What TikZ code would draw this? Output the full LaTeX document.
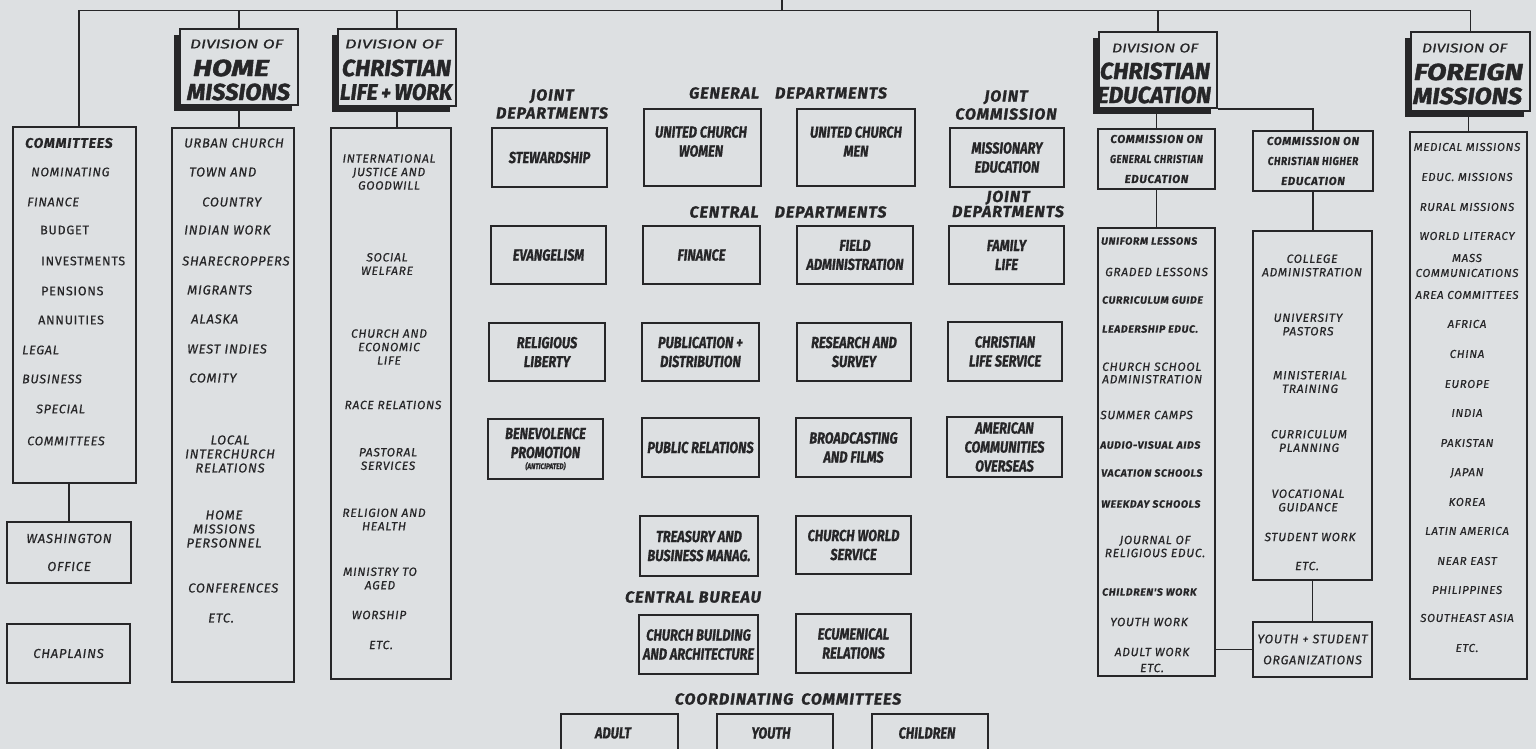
\documentclass[tikz,border=0pt]{standalone}
\usepackage{fontspec}
\usepackage{graphicx}
\setmainfont{Fira Sans}
\newfontfamily\listf{Fira Sans}[LetterSpace=6,FakeBold=0.5]
\newfontfamily\condf{Fira Sans}[FakeStretch=0.8,FakeBold=0.8]
\newfontfamily\heavyf{Fira Sans}[FakeBold=1.6]
\newfontfamily\medf{Fira Sans}[FakeBold=0.8]
\newfontfamily\secf{Fira Sans}[LetterSpace=6,FakeBold=1.0]
\usetikzlibrary{shadows}
\definecolor{bg}{RGB}{221,224,226}
\definecolor{ink}{RGB}{38,38,40}
\newcommand\rs[3]{\resizebox{#1pt}{#2pt}{\heavyf\bfseries\itshape #3}}
\newcommand\rd[3]{\resizebox{#1pt}{#2pt}{\medf\itshape #3}}
\newcommand\sx[2]{\scalebox{#1}[1]{#2}}
\begin{document}
\begin{tikzpicture}[x=1pt,y=-1pt,
 box/.style={draw=ink,line width=1.7pt,fill=bg,inner sep=0pt},
 hbox/.style={draw=ink,line width=2.2pt,fill=bg,inner sep=0pt,drop shadow={shadow xshift=-6pt,shadow yshift=-6pt,fill=ink,opacity=1}},
 tbox/.style={box,line width=2.8pt},
 bt/.style={font=\condf\bfseries\itshape\fontsize{16}{19}\selectfont,align=center,text=ink},
 cmbox/.style={font=\listf\bfseries\itshape\fontsize{11.5}{20}\selectfont,align=center,text=ink},
 lst/.style={inner sep=0pt,text=ink,font=\listf\itshape\fontsize{13}{14}\selectfont},
 lstc/.style={lst,align=center},
 lup/.style={inner sep=0pt,text=ink,font=\listf\fontsize{12.5}{14}\selectfont},
 lsc/.style={inner sep=0pt,text=ink,font=\listf\itshape\fontsize{12}{13.5}\selectfont,align=center},
 gl/.style={inner sep=0pt,text=ink,font=\listf\itshape\fontsize{12}{12.5}\selectfont},
 lsm/.style={inner sep=0pt,text=ink,font=\listf\bfseries\itshape\fontsize{10.5}{12}\selectfont},
 fl/.style={inner sep=0pt,text=ink,font=\listf\itshape\fontsize{11.5}{15}\selectfont,align=center},
 sec/.style={inner sep=0pt,text=ink,font=\secf\bfseries\itshape\fontsize{16}{18}\selectfont,align=center},
 hl/.style={inner sep=0pt,text=ink},
 conn/.style={draw=ink,line width=1.7pt},
]
\useasboundingbox (0,0) rectangle (1536,749);
\clip (0,0) rectangle (1536,749);
\fill[bg] (0,0) rectangle (1536,749);

% ---------- division headings ----------
\node[hbox,minimum width=118pt,minimum height=76pt] (hm) at (239,67) {};
\node[hbox,minimum width=118pt,minimum height=77pt] (clw) at (397,67.5) {};
\node[hbox,minimum width=118pt,minimum height=76pt] (ce) at (1158,70) {};
\node[hbox,minimum width=119pt,minimum height=79pt] (fm) at (1470.5,71.5) {};

\node[hl] (hm1) at (236.5,44) {\rd{93}{9}{DIVISION OF}};
\node[hl] (hm2) at (231,68) {\rs{76}{16.5}{HOME}};
\node[hl] (hm3) at (238.5,92) {\rs{103}{16.5}{MISSIONS}};
\node[hl] (clw1) at (394,44) {\rd{98}{9}{DIVISION OF}};
\node[hl] (clw2) at (396.5,68) {\rs{109}{16.5}{CHRISTIAN}};
\node[hl] (clw3) at (396,92) {\rs{112}{16}{LIFE\,{\small+}\,WORK}};
\node[hl] (ce1) at (1155,48) {\rd{86}{9}{DIVISION OF}};
\node[hl] (ce2) at (1155,71) {\rs{110}{16.5}{CHRISTIAN}};
\node[hl] (ce3) at (1154,95) {\rs{114}{16.5}{EDUCATION}};
\node[hl] (fm1) at (1464.5,48) {\rd{85}{9}{DIVISION OF}};
\node[hl] (fm2) at (1468.5,72) {\rs{109}{16.5}{FOREIGN}};
\node[hl] (fm3) at (1467.5,96) {\rs{109}{16.5}{MISSIONS}};

% ---------- left column ----------
\node[box,minimum width=123pt,minimum height=356pt] (com) at (74.5,305) {};
\node[inner sep=0pt,text=ink,font=\listf\bfseries\itshape\fontsize{14}{14}\selectfont,anchor=west] (comh) at (25,143) {COMMITTEES};
\foreach \t/\x/\y [count=\i] in {NOMINATING/31/172, FINANCE/27/202, LEGAL/22/350, BUSINESS/22/379, SPECIAL/36/409, COMMITTEES/27/441}
  \node[lst,font=\listf\itshape\fontsize{12.5}{14}\selectfont,anchor=west] (ci\i) at (\x,\y) {\t};
\foreach \t/\x/\y [count=\i] in {BUDGET/40/230, INVESTMENTS/41/261, PENSIONS/41/291, ANNUITIES/38/320}
  \node[lup,anchor=west] (cu\i) at (\x,\y) {\t};
\node[box,minimum width=124pt,minimum height=61pt,font=\listf\itshape\fontsize{13}{28}\selectfont,align=center,text=ink] (wash) at (69,552.5) {WASHINGTON\\OFFICE};
\node[box,minimum width=123pt,minimum height=59pt,font=\listf\itshape\fontsize{13}{14}\selectfont,text=ink] (chap) at (68.5,653.5) {CHAPLAINS};

% ---------- home missions list ----------
\node[box,minimum width=122pt,minimum height=554pt] (hml) at (233,405) {};
\foreach \t/\x/\y [count=\i] in {URBAN CHURCH/184/143, TOWN AND/189/172, COUNTRY/202/202, INDIAN WORK/184/230, SHARECROPPERS/182/261, MIGRANTS/187/290, ALASKA/191/319, WEST INDIES/187/349, COMITY/189/378, CONFERENCES/188/588, ETC./208/618}
  \node[lst,anchor=west] (hmi\i) at (\x,\y) {\t};
\node[lstc] (hmlo) at (230,454) {LOCAL\\INTERCHURCH\\RELATIONS};
\node[lstc] (hmpe) at (224,529) {HOME\\MISSIONS\\PERSONNEL};

% ---------- christian life and work list ----------
\node[box,minimum width=120pt,minimum height=551pt] (clwl) at (391,403.5) {};
\foreach \t/\x/\y [count=\i] in {{INTERNATIONAL\\JUSTICE AND\\GOODWILL}/389/172, {SOCIAL\\WELFARE}/387/264, {CHURCH AND\\ECONOMIC\\LIFE}/389/347, {RACE RELATIONS}/393/405, {PASTORAL\\SERVICES}/388/459, {RELIGION AND\\HEALTH}/384/519.5, {MINISTRY TO\\AGED}/380/578.5, {WORSHIP}/379/615, {ETC.}/381/645}
  \node[lsc] (cli\i) at (\x,\y) {\t};

% ---------- centre ----------
\node[sec] (jd1) at (552,104) {JOINT\\DEPARTMENTS};
\node[sec] (gd) at (788,93) {GENERAL\quad DEPARTMENTS};
\node[sec] (jc) at (1006,105) {JOINT\\COMMISSION};
\node[sec] (cd) at (788,212) {CENTRAL\quad DEPARTMENTS};
\node[sec,font=\secf\bfseries\itshape\fontsize{16}{14}\selectfont] (jd2) at (1008,204) {JOINT\\DEPARTMENTS};
\node[sec] (cb) at (693,597) {CENTRAL BUREAU};
\node[sec] (cc) at (788,699) {COORDINATING\enspace COMMITTEES};

\node[box,bt,minimum width=115pt,minimum height=59pt] (stew) at (549.5,157.5) {STEWARDSHIP};
\node[tbox,minimum width=117pt,minimum height=77pt] (ucw) at (702.5,147.5) {};
\node[bt,inner sep=0pt] (ucwt) at (701,141.5) {UNITED CHURCH\\WOMEN};
\node[tbox,minimum width=118pt,minimum height=77pt] (ucm) at (856,147.5) {};
\node[bt,inner sep=0pt] (ucmt) at (856,141.5) {UNITED CHURCH\\MEN};
\node[box,bt,minimum width=114pt,minimum height=59pt] (me) at (1007,157.5) {MISSIONARY\\EDUCATION};

\node[box,bt,minimum width=115pt,minimum height=58pt] (evan) at (548.5,255) {EVANGELISM};
\node[box,bt,minimum width=117pt,minimum height=58pt] (fin) at (701.5,255) {FINANCE};
\node[box,bt,minimum width=116pt,minimum height=58pt] (field) at (855,255) {FIELD\\ADMINISTRATION};
\node[box,bt,minimum width=115pt,minimum height=58pt] (fam) at (1006.5,255) {FAMILY\\LIFE};

\node[box,bt,minimum width=116pt,minimum height=58pt] (rel) at (547,352) {RELIGIOUS\\LIBERTY};
\node[box,bt,minimum width=117pt,minimum height=58pt] (pub) at (700.5,352) {PUBLICATION +\\DISTRIBUTION};
\node[box,bt,minimum width=114pt,minimum height=58pt] (res) at (854,352) {RESEARCH AND\\SURVEY};
\node[box,bt,minimum width=114pt,minimum height=59pt] (cls) at (1005,351.5) {CHRISTIAN\\LIFE SERVICE};

\node[box,bt,minimum width=115pt,minimum height=60pt] (ben) at (545.5,449) {BENEVOLENCE\\PROMOTION\\[-8pt]{\fontsize{8}{9}\selectfont(ANTICIPATED)}};
\node[box,bt,minimum width=117pt,minimum height=59pt] (pr) at (700.5,447.5) {PUBLIC RELATIONS};
\node[box,bt,minimum width=115pt,minimum height=59pt] (bro) at (853.5,447.5) {BROADCASTING\\AND FILMS};
\node[box,bt,minimum width=115pt,minimum height=60pt] (aco) at (1004.5,447) {AMERICAN\\COMMUNITIES\\OVERSEAS};

\node[box,bt,minimum width=118pt,minimum height=60pt] (tre) at (699,546) {TREASURY AND\\BUSINESS MANAG.};
\node[box,bt,minimum width=115pt,minimum height=58pt] (cws) at (853.5,545) {CHURCH WORLD\\SERVICE};
\node[box,bt,minimum width=119pt,minimum height=59pt] (cbd) at (698.5,644.5) {CHURCH BUILDING\\AND ARCHITECTURE};
\node[box,bt,minimum width=115pt,minimum height=59pt] (ecu) at (853.5,643.5) {ECUMENICAL\\RELATIONS};

\node[box,minimum width=117pt,minimum height=60pt] (adult) at (619.5,744) {};
\node[box,minimum width=116pt,minimum height=60pt] (youth) at (775,744) {};
\node[box,minimum width=116pt,minimum height=60pt] (child) at (930,744) {};
\node[bt,inner sep=0pt] (adultt) at (613,733) {ADULT};
\node[bt,inner sep=0pt] (youtht) at (771,733) {YOUTH};
\node[bt,inner sep=0pt] (childt) at (927,733) {CHILDREN};

% ---------- christian education ----------
\node[box,cmbox,minimum width=117pt,minimum height=60pt] (gen) at (1156.5,159) {COMMISSION ON\\\sx{0.82}{GENERAL CHRISTIAN}\\EDUCATION};
\node[box,cmbox,minimum width=120pt,minimum height=60pt] (hi) at (1313,161) {COMMISSION ON\\\sx{0.86}{CHRISTIAN HIGHER}\\EDUCATION};
\node[box,minimum width=117pt,minimum height=448pt] (genl) at (1156.5,452) {};
\node[box,minimum width=119pt,minimum height=349pt] (hil) at (1312.5,405.5) {};
\node[box,minimum width=119pt,minimum height=55pt,font=\listf\itshape\fontsize{12.5}{21}\selectfont,align=center,text=ink] (ys) at (1312.5,649.5) {YOUTH + STUDENT\\ORGANIZATIONS};

\foreach \t/\x/\y [count=\i] in {UNIFORM LESSONS/1101/241, CURRICULUM GUIDE/1102/300, LEADERSHIP EDUC./1102/329, AUDIO-VISUAL AIDS/1100/445, VACATION SCHOOLS/1101/473, WEEKDAY SCHOOLS/1101/504, CHILDREN'S WORK/1102/592}
  \node[lsm,anchor=west] (gs\i) at (\x,\y) {\t};
\foreach \t/\x/\y [count=\i] in {GRADED LESSONS/1105/272, SUMMER CAMPS/1100/415, YOUTH WORK/1110/622}
  \node[gl,anchor=west] (gr\i) at (\x,\y) {\t};
\node[gl,align=left,anchor=west] (gcs) at (1102,373) {CHURCH SCHOOL\\ADMINISTRATION};
\node[gl,align=center,font=\listf\itshape\fontsize{12}{13}\selectfont] (gjo) at (1155,546.5) {JOURNAL OF\\RELIGIOUS EDUC.};
\node[gl,align=center,font=\listf\itshape\fontsize{12}{16}\selectfont] (gad) at (1152,660) {ADULT WORK\\ETC.};

\foreach \t/\x/\y [count=\i] in {{COLLEGE\\ADMINISTRATION}/1312/265.5, {UNIVERSITY\\PASTORS}/1308/324.5, {MINISTERIAL\\TRAINING}/1310/382, {CURRICULUM\\PLANNING}/1309/441, {VOCATIONAL\\GUIDANCE}/1308/500.5, {STUDENT WORK}/1310/537, {ETC.}/1307/566}
  \node[lsc] (hli\i) at (\x,\y) {\t};

% ---------- foreign missions ----------
\node[box,minimum width=117pt,minimum height=547pt] (fml) at (1468.5,405.5) {};
\foreach \t/\y [count=\i] in {MEDICAL MISSIONS/147, EDUC. MISSIONS/177, RURAL MISSIONS/207, WORLD LITERACY/236, {MASS\\COMMUNICATIONS}/265.5, AREA COMMITTEES/295, AFRICA/324, CHINA/354, EUROPE/384, INDIA/413, PAKISTAN/443, JAPAN/473, KOREA/502, LATIN AMERICA/531, NEAR EAST/561, PHILIPPINES/590, SOUTHEAST ASIA/618, ETC./648}
  \node[fl] (fi\i) at (1467,\y) {\t};

% ---------- connectors ----------
\coordinate (bar) at (0,10.5);
\coordinate (up) at (782,-3);
\coordinate (fmtop) at (fm.north |- bar);
\draw[conn] (up) -- (up |- bar);
\draw[conn] ([xshift=4.5pt]com.north) |- (fmtop) -- (fm.north);
\draw[conn] (hm.north) -- (hm.north |- bar);
\draw[conn] (clw.north) -- (clw.north |- bar);
\draw[conn] (ce.north) -- (ce.north |- bar);
\draw[conn] (hm.south) -- (hm.south |- hml.north);
\draw[conn] (clw.south) -- (clw.south |- clwl.north);
\draw[conn] (wash.north) -- (wash.north |- com.south);
\draw[conn] (gen.north) -- (gen.north |- ce.south);
\draw[conn] (ce.south east) -| (hi.north);
\draw[conn] (fml.north) -- (fml.north |- fm.south);
\draw[conn] (gen.south) -- (genl.north);
\draw[conn] (hi.south) -- (hi.south |- hil.north);
\draw[conn] (hil.south) -- (hil.south |- ys.north);
\draw[conn] (ys.west) -- (ys.west -| genl.east);
\end{tikzpicture}
\end{document}
